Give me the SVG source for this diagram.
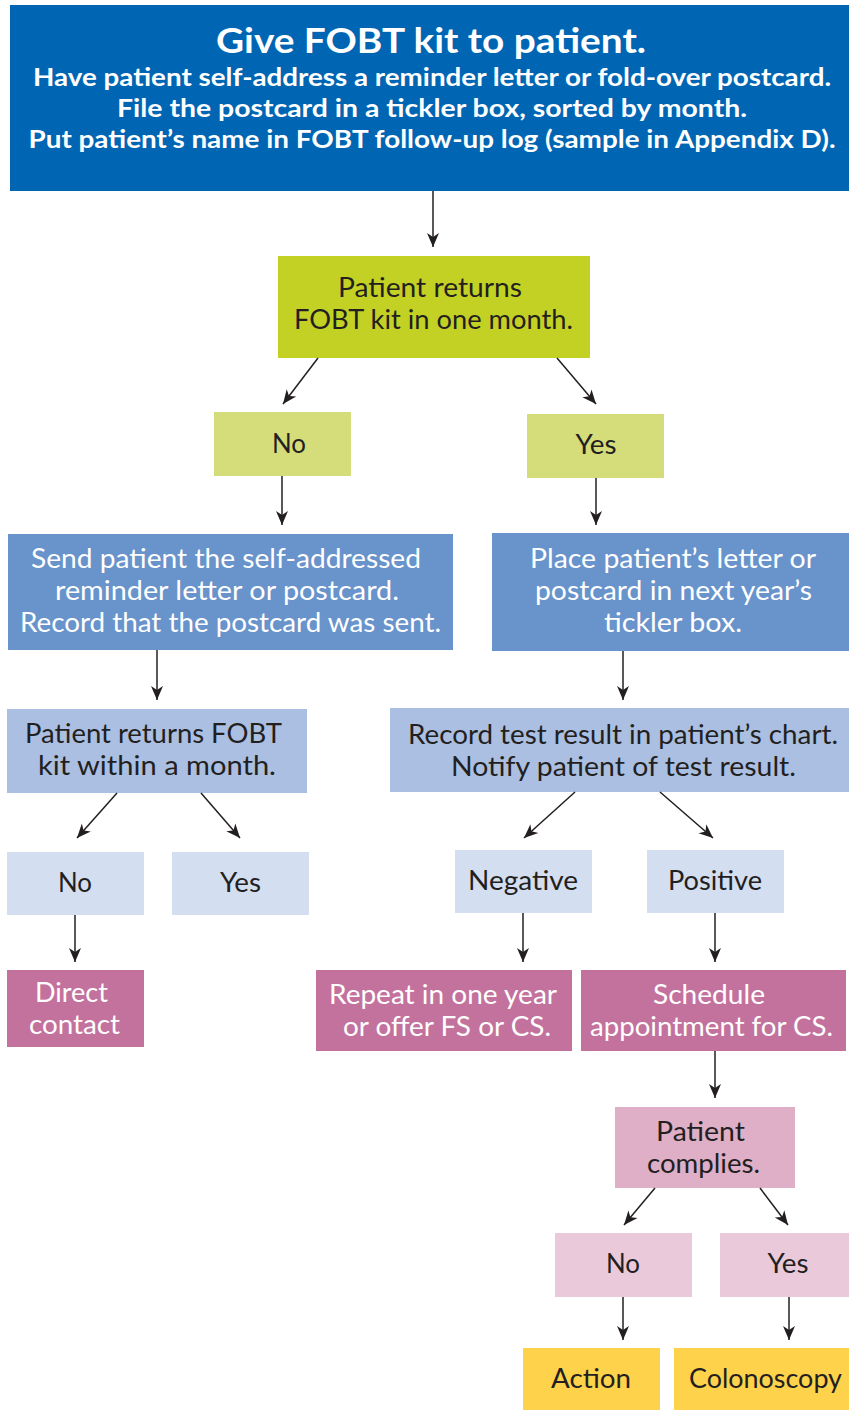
<svg xmlns="http://www.w3.org/2000/svg" width="849" height="1410" viewBox="0 0 849 1410">
<defs>
<style>
text{font-family:Lato,"Open Sans","Liberation Sans",sans-serif;font-size:26px;text-anchor:middle;fill:#231F20}
.w{fill:#FFFFFF}
.b{font-weight:bold;fill:#FFFFFF}
.t{font-size:34px}
.s{font-size:24px}
.c line{stroke:#231F20;stroke-width:1.5;fill:none;marker-end:url(#ah)}
</style>
<marker id="ah" viewBox="-15 -7 16 14" refX="0" refY="0" markerWidth="16" markerHeight="14" markerUnits="userSpaceOnUse" orient="auto">
<path d="M0,0 L-14,-6 L-10,0 L-14,6 Z" fill="#231F20"/>
</marker>
</defs>
<rect width="849" height="1410" fill="#FFFFFF"/>

<g id="give-kit">
<rect x="10" y="5" width="839" height="186" fill="#0066B3"/>
<text class="b t" x="431" y="53" textLength="430" lengthAdjust="spacingAndGlyphs">Give FOBT kit to patient.</text>
<text class="b s" x="432" y="86" textLength="798" lengthAdjust="spacingAndGlyphs">Have patient self-address a reminder letter or fold-over postcard.</text>
<text class="b s" x="432" y="117" textLength="630" lengthAdjust="spacingAndGlyphs">File the postcard in a tickler box, sorted by month.</text>
<text class="b s" x="432" y="148" textLength="807" lengthAdjust="spacingAndGlyphs">Put patient’s name in FOBT follow-up log (sample in Appendix D).</text>
</g>

<g id="returns-one-month">
<rect x="278" y="256" width="312" height="102" fill="#C3D124"/>
<text x="430" y="297" textLength="184" lengthAdjust="spacingAndGlyphs">Patient returns</text>
<text x="433.5" y="329" textLength="279" lengthAdjust="spacingAndGlyphs">FOBT kit in one month.</text>
</g>

<g id="no-1">
<rect x="214" y="412" width="137" height="64" fill="#D5DC7A"/>
<text x="289" y="453" textLength="34" lengthAdjust="spacingAndGlyphs">No</text>
</g>
<g id="yes-1">
<rect x="527" y="414" width="137" height="64" fill="#D5DC7A"/>
<text x="596" y="454" textLength="41" lengthAdjust="spacingAndGlyphs">Yes</text>
</g>

<g id="send-reminder">
<rect x="8" y="534" width="445" height="116" fill="#6893CB"/>
<text class="w" x="226" y="568" textLength="390" lengthAdjust="spacingAndGlyphs">Send patient the self-addressed</text>
<text class="w" x="227" y="600" textLength="344" lengthAdjust="spacingAndGlyphs">reminder letter or postcard.</text>
<text class="w" x="230.5" y="632" textLength="421" lengthAdjust="spacingAndGlyphs">Record that the postcard was sent.</text>
</g>

<g id="place-letter">
<rect x="492" y="533" width="357" height="118" fill="#6893CB"/>
<text class="w" x="673" y="568" textLength="286" lengthAdjust="spacingAndGlyphs">Place patient’s letter or</text>
<text class="w" x="673.5" y="600" textLength="277" lengthAdjust="spacingAndGlyphs">postcard in next year’s</text>
<text class="w" x="673" y="632" textLength="138" lengthAdjust="spacingAndGlyphs">tickler box.</text>
</g>

<g id="returns-within-month">
<rect x="7" y="709" width="300" height="84" fill="#AABFE2"/>
<text x="153.5" y="743" textLength="257" lengthAdjust="spacingAndGlyphs">Patient returns FOBT</text>
<text x="157" y="775" textLength="238" lengthAdjust="spacingAndGlyphs">kit within a month.</text>
</g>

<g id="record-result">
<rect x="390" y="708" width="459" height="84" fill="#AABFE2"/>
<text x="623" y="744" textLength="430" lengthAdjust="spacingAndGlyphs">Record test result in patient’s chart.</text>
<text x="623.5" y="776" textLength="345" lengthAdjust="spacingAndGlyphs">Notify patient of test result.</text>
</g>

<g id="no-2">
<rect x="7" y="852" width="137" height="63" fill="#D4DEF1"/>
<text x="75" y="892" textLength="34" lengthAdjust="spacingAndGlyphs">No</text>
</g>
<g id="yes-2">
<rect x="172" y="852" width="137" height="63" fill="#D4DEF1"/>
<text x="240.5" y="892" textLength="41" lengthAdjust="spacingAndGlyphs">Yes</text>
</g>
<g id="negative">
<rect x="455" y="850" width="137" height="63" fill="#D4DEF1"/>
<text x="523" y="890" textLength="110" lengthAdjust="spacingAndGlyphs">Negative</text>
</g>
<g id="positive">
<rect x="647" y="850" width="137" height="63" fill="#D4DEF1"/>
<text x="715" y="890" textLength="94" lengthAdjust="spacingAndGlyphs">Positive</text>
</g>

<g id="direct-contact">
<rect x="7" y="970" width="137" height="77" fill="#C3729D"/>
<text class="w" x="71.5" y="1002" textLength="73" lengthAdjust="spacingAndGlyphs">Direct</text>
<text class="w" x="74.5" y="1034" textLength="91" lengthAdjust="spacingAndGlyphs">contact</text>
</g>

<g id="repeat">
<rect x="316" y="970" width="256" height="81" fill="#C3729D"/>
<text class="w" x="443" y="1004" textLength="228" lengthAdjust="spacingAndGlyphs">Repeat in one year</text>
<text class="w" x="447" y="1036" textLength="208" lengthAdjust="spacingAndGlyphs">or offer FS or CS.</text>
</g>

<g id="schedule">
<rect x="581" y="970" width="265" height="81" fill="#C3729D"/>
<text class="w" x="709" y="1004" textLength="112" lengthAdjust="spacingAndGlyphs">Schedule</text>
<text class="w" x="711.5" y="1036" textLength="243" lengthAdjust="spacingAndGlyphs">appointment for CS.</text>
</g>

<g id="complies">
<rect x="615" y="1107" width="180" height="81" fill="#DEAFC7"/>
<text x="700.5" y="1141" textLength="89" lengthAdjust="spacingAndGlyphs">Patient</text>
<text x="703.5" y="1173" textLength="113" lengthAdjust="spacingAndGlyphs">complies.</text>
</g>

<g id="no-3">
<rect x="555" y="1233" width="137" height="64" fill="#E9C9DA"/>
<text x="623" y="1273" textLength="34" lengthAdjust="spacingAndGlyphs">No</text>
</g>
<g id="yes-3">
<rect x="720" y="1233" width="129" height="64" fill="#E9C9DA"/>
<text x="788" y="1273" textLength="41" lengthAdjust="spacingAndGlyphs">Yes</text>
</g>

<g id="action">
<rect x="523" y="1348" width="137" height="62" fill="#FED24B"/>
<text x="591" y="1388" textLength="80" lengthAdjust="spacingAndGlyphs">Action</text>
</g>
<g id="colonoscopy">
<rect x="674" y="1348" width="175" height="62" fill="#FED24B"/>
<text x="765.5" y="1388" textLength="153" lengthAdjust="spacingAndGlyphs">Colonoscopy</text>
</g>

<g id="connectors" class="c">
<line x1="433" y1="191" x2="433" y2="247"/>
<line x1="318" y1="358" x2="283" y2="404"/>
<line x1="557" y1="358" x2="596" y2="404"/>
<line x1="282" y1="476" x2="282" y2="525"/>
<line x1="596" y1="478" x2="596" y2="525"/>
<line x1="157" y1="650" x2="157" y2="700"/>
<line x1="623" y1="651" x2="623" y2="700"/>
<line x1="117" y1="793" x2="77" y2="838"/>
<line x1="201" y1="793" x2="240" y2="838"/>
<line x1="575" y1="792" x2="524" y2="838"/>
<line x1="660" y1="792" x2="713" y2="838"/>
<line x1="75" y1="915" x2="75" y2="962"/>
<line x1="523" y1="913" x2="523" y2="962"/>
<line x1="715" y1="913" x2="715" y2="962"/>
<line x1="715" y1="1051" x2="715" y2="1098"/>
<line x1="655" y1="1188" x2="624" y2="1225"/>
<line x1="760" y1="1188" x2="788" y2="1225"/>
<line x1="623" y1="1297" x2="623" y2="1340"/>
<line x1="789" y1="1297" x2="789" y2="1340"/>
</g>
</svg>
